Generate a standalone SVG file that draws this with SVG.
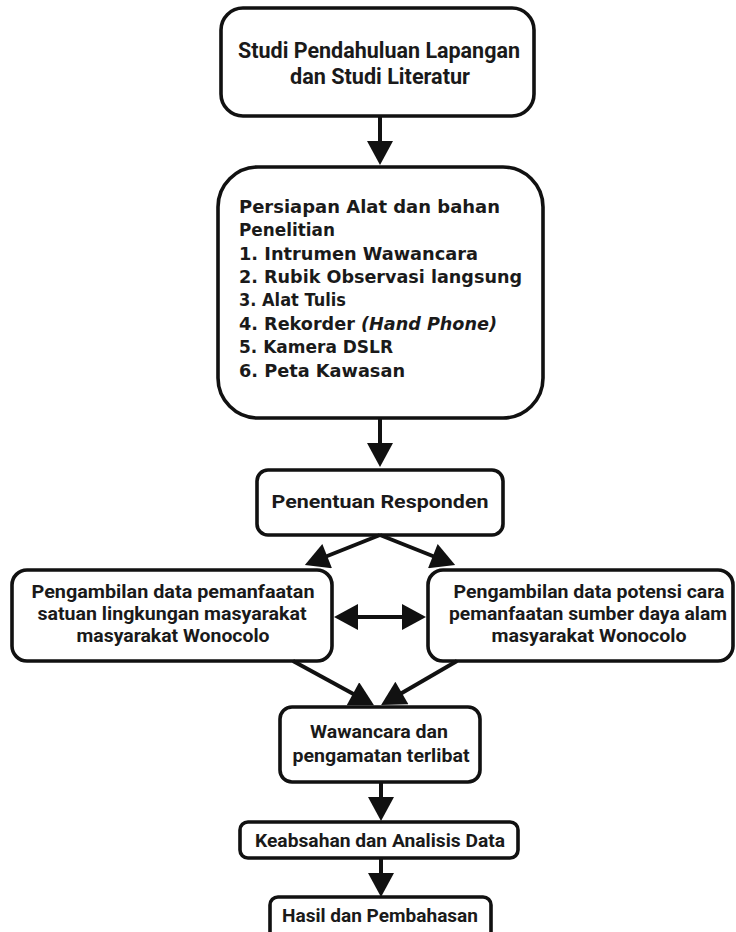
<svg xmlns="http://www.w3.org/2000/svg" width="736" height="932" viewBox="0 0 736 932">
<style>
.box{fill:#fff;stroke:#111;stroke-width:3.6}
.t{font-family:Roboto,"Open Sans","Liberation Sans",sans-serif;font-weight:bold;font-size:18.5px;fill:#1a1a1a;text-anchor:middle}
.t1{font-size:22px}
.g{font-family:"DejaVu Sans","Liberation Sans",sans-serif;font-weight:bold;font-size:18px;fill:#1a1a1a}
.c{stroke:#111;stroke-width:4;fill:none}
</style>
<defs>
<marker id="ah" markerUnits="userSpaceOnUse" markerWidth="26" markerHeight="26" viewBox="0 0 24 26" refX="12" refY="13" orient="auto-start-reverse">
<path d="M0,0 L24,13 L0,26 z" fill="#111"/>
</marker>
</defs>
<rect width="736" height="932" fill="#fff"/>

<g id="n1">
<rect class="box" x="221" y="8" width="313" height="108" rx="22"/>
<text class="t t1" x="379" y="58" textLength="282" lengthAdjust="spacingAndGlyphs">Studi Pendahuluan Lapangan</text>
<text class="t t1" x="380" y="84" textLength="180" lengthAdjust="spacingAndGlyphs">dan Studi Literatur</text>
</g>

<g id="n2">
<rect class="box" x="218" y="167" width="325" height="251" rx="40"/>
<text class="g" x="239" y="213" textLength="261" lengthAdjust="spacingAndGlyphs">Persiapan Alat dan bahan</text>
<text class="g" x="239" y="236" textLength="96" lengthAdjust="spacingAndGlyphs">Penelitian</text>
<text class="g" x="239" y="260" textLength="239" lengthAdjust="spacingAndGlyphs">1. Intrumen Wawancara</text>
<text class="g" x="239" y="283" textLength="283" lengthAdjust="spacingAndGlyphs">2. Rubik Observasi langsung</text>
<text class="g" x="239" y="306" textLength="107" lengthAdjust="spacingAndGlyphs">3. Alat Tulis</text>
<text class="g" x="239" y="330" textLength="258" lengthAdjust="spacingAndGlyphs">4. Rekorder <tspan font-style="italic">(Hand Phone)</tspan></text>
<text class="g" x="239" y="353" textLength="154" lengthAdjust="spacingAndGlyphs">5. Kamera DSLR</text>
<text class="g" x="239" y="377" textLength="166" lengthAdjust="spacingAndGlyphs">6. Peta Kawasan</text>
</g>

<g id="n3">
<rect class="box" x="257" y="470" width="246" height="65" rx="11"/>
<text class="t" x="380" y="508" textLength="217" lengthAdjust="spacingAndGlyphs">Penentuan Responden</text>
</g>

<g id="n4">
<rect class="box" x="12" y="570" width="320" height="91" rx="15"/>
<text class="t" x="173" y="598" textLength="283" lengthAdjust="spacingAndGlyphs">Pengambilan data pemanfaatan</text>
<text class="t" x="172" y="620" textLength="269" lengthAdjust="spacingAndGlyphs">satuan lingkungan masyarakat</text>
<text class="t" x="173" y="642" textLength="193" lengthAdjust="spacingAndGlyphs">masyarakat Wonocolo</text>
</g>

<g id="n5">
<rect class="box" x="428" y="570" width="305" height="91" rx="15"/>
<text class="t" x="589" y="598" textLength="271" lengthAdjust="spacingAndGlyphs">Pengambilan data potensi cara</text>
<text class="t" x="588" y="620" textLength="278" lengthAdjust="spacingAndGlyphs">pemanfaatan sumber daya alam</text>
<text class="t" x="589" y="642" textLength="195" lengthAdjust="spacingAndGlyphs">masyarakat Wonocolo</text>
</g>

<g id="n6">
<rect class="box" x="280" y="707" width="200" height="75" rx="12"/>
<text class="t" x="379" y="738" textLength="138" lengthAdjust="spacingAndGlyphs">Wawancara dan</text>
<text class="t" x="381" y="762" textLength="177" lengthAdjust="spacingAndGlyphs">pengamatan terlibat</text>
</g>

<g id="n7">
<rect class="box" x="240" y="822" width="278" height="36" rx="8"/>
<text class="t" x="380" y="847" textLength="250" lengthAdjust="spacingAndGlyphs">Keabsahan dan Analisis Data</text>
</g>

<g id="n8">
<rect class="box" x="270" y="897" width="221" height="45" rx="8"/>
<text class="t" x="380" y="922" textLength="196" lengthAdjust="spacingAndGlyphs">Hasil dan Pembahasan</text>
</g>

<g id="connectors">
<line class="c" x1="380" y1="116" x2="380" y2="153" marker-end="url(#ah)"/>
<line class="c" x1="380" y1="418" x2="380" y2="455" marker-end="url(#ah)"/>
<line class="c" x1="380" y1="535" x2="316" y2="560.5" marker-end="url(#ah)"/>
<line class="c" x1="380" y1="535" x2="444" y2="560.5" marker-end="url(#ah)"/>
<line class="c" x1="346" y1="617" x2="414" y2="617" marker-start="url(#ah)" marker-end="url(#ah)"/>
<line class="c" x1="293" y1="661" x2="363.5" y2="699.5" marker-end="url(#ah)"/>
<line class="c" x1="457" y1="661" x2="391.5" y2="699" marker-end="url(#ah)"/>
<line class="c" x1="381" y1="782" x2="381" y2="809" marker-end="url(#ah)"/>
<line class="c" x1="381" y1="858" x2="381" y2="885" marker-end="url(#ah)"/>
</g>
</svg>
